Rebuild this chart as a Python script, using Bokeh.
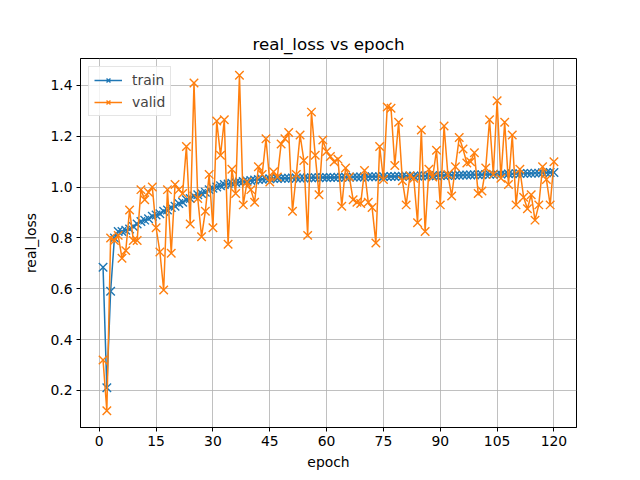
from bokeh.plotting import figure
from bokeh.models import Range1d, PrintfTickFormatter
from bokeh.embed import file_html
from bokeh.resources import INLINE

epochs = list(range(1, 121))

train_loss = [
    0.685, 0.21, 0.59, 0.80, 0.825, 0.825, 0.83, 0.835, 0.845, 0.855,
    0.865, 0.87, 0.875, 0.885, 0.89, 0.895, 0.905, 0.91, 0.92, 0.925,
    0.935, 0.94, 0.95, 0.955, 0.965, 0.97, 0.975, 0.98, 0.99, 0.995,
    1.0, 1.005, 1.01, 1.012, 1.015, 1.018, 1.02, 1.022, 1.024, 1.026,
    1.028, 1.03, 1.031, 1.032, 1.033, 1.034, 1.034, 1.035, 1.035, 1.035,
    1.036, 1.036, 1.036, 1.036, 1.037, 1.037, 1.037, 1.037, 1.038, 1.038,
    1.038, 1.038, 1.039, 1.039, 1.039, 1.039, 1.040, 1.040, 1.040, 1.040,
    1.041, 1.041, 1.041, 1.041, 1.042, 1.042, 1.042, 1.042, 1.043, 1.043,
    1.043, 1.043, 1.044, 1.044, 1.044, 1.044, 1.045, 1.045, 1.045, 1.046,
    1.046, 1.046, 1.047, 1.047, 1.047, 1.048, 1.048, 1.048, 1.049, 1.049,
    1.049, 1.050, 1.050, 1.050, 1.051, 1.051, 1.052, 1.052, 1.052, 1.053,
    1.053, 1.054, 1.054, 1.054, 1.055, 1.055, 1.056, 1.056, 1.057, 1.057,
]

valid_loss = [
    0.32, 0.12, 0.80, 0.79, 0.81, 0.72, 0.75, 0.91, 0.79, 0.79,
    0.99, 0.95, 0.98, 1.00, 0.84, 0.745, 0.595, 0.99, 0.74, 1.01,
    0.99, 0.975, 1.16, 0.855, 1.41, 0.955, 0.805, 0.905, 1.05, 0.84,
    1.26, 1.125, 1.265, 0.775, 1.07, 0.975, 1.44, 0.93, 1.02, 0.99,
    0.94, 1.08, 1.05, 1.19, 1.02, 1.06, 1.04, 1.17, 1.19, 1.215,
    0.905, 1.05, 1.205, 1.105, 0.81, 1.295, 1.125, 0.97, 1.185, 1.14,
    1.12, 1.10, 1.11, 0.925, 1.075, 1.04, 0.95, 0.94, 0.935, 1.065,
    0.94, 0.92, 0.78, 1.16, 1.03, 1.315, 1.31, 1.085, 1.255, 1.025,
    0.93, 1.045, 1.035, 0.86, 1.225, 0.825, 1.07, 1.04, 1.145, 0.93,
    1.24, 1.05, 0.965, 1.08, 1.195, 1.15, 1.095, 1.10, 1.135, 0.975,
    0.985, 1.075, 1.265, 1.05, 1.34, 1.035, 1.255, 1.01, 1.205, 0.93,
    1.07, 0.96, 0.915, 0.97, 0.87, 0.93, 1.08, 1.03, 0.93, 1.10,
]

x_ticks = [0, 15, 30, 45, 60, 75, 90, 105, 120]
y_ticks = [0.2, 0.4, 0.6, 0.8, 1.0, 1.2, 1.4]

FONT = "DejaVu Sans"

p = figure(
    width=640, height=480,
    output_backend="svg", toolbar_location=None,
    x_range=Range1d(-4.95, 125.95), y_range=Range1d(0.054, 1.506),
    min_border_left=80, min_border_right=64,
    min_border_top=58, min_border_bottom=53,
    title="real_loss vs epoch",
)
p.background_fill_color = "white"
p.border_fill_color = "white"
p.outline_line_color = "black"
p.outline_line_width = 1

p.title.align = "center"
p.title.text_font = FONT
p.title.text_font_size = "16.7px"
p.title.text_font_style = "normal"
p.title.text_color = "black"

for ax in (p.xaxis[0], p.yaxis[0]):
    ax.major_label_text_font = FONT
    ax.major_label_text_font_size = "13.9px"
    ax.major_label_text_color = "black"
    ax.axis_label_text_font = FONT
    ax.axis_label_text_font_size = "13.9px"
    ax.axis_label_text_font_style = "normal"
    ax.axis_label_text_color = "black"
    ax.minor_tick_line_color = None
    ax.major_tick_in = 0
    ax.major_tick_out = 4
    ax.major_tick_line_color = "black"
    ax.axis_line_color = "black"
    ax.major_label_standoff = 4

p.xaxis.ticker = x_ticks
p.yaxis.ticker = y_ticks
p.xaxis.formatter = PrintfTickFormatter(format="%d")
p.yaxis.formatter = PrintfTickFormatter(format="%.1f")
p.xaxis.axis_label = "epoch"
p.yaxis.axis_label = "real_loss"
p.xaxis.axis_label_standoff = 5
p.yaxis.axis_label_standoff = 8

p.grid.grid_line_color = "#b0b0b0"
p.grid.grid_line_width = 0.8

p.line(epochs, train_loss, line_color="#1f77b4", line_width=1.5, legend_label="train")
p.scatter(epochs, train_loss, marker="x", size=12, line_color="#1f77b4", line_width=1.4, legend_label="train")
p.line(epochs, valid_loss, line_color="#ff7f0e", line_width=1.5, legend_label="valid")
p.scatter(epochs, valid_loss, marker="x", size=12, line_color="#ff7f0e", line_width=1.4, legend_label="valid")

lg = p.legend[0]
lg.location = "top_left"
lg.margin = 8
lg.padding = 5
lg.spacing = 6
lg.label_text_font = FONT
lg.label_text_font_size = "13.9px"
lg.label_height = 14
lg.glyph_height = 14
lg.glyph_width = 28
lg.label_standoff = 10
lg.border_line_color = "#cccccc"
lg.border_line_width = 1
lg.background_fill_alpha = 0.8

open("out.html", "w").write(file_html(p, INLINE))
